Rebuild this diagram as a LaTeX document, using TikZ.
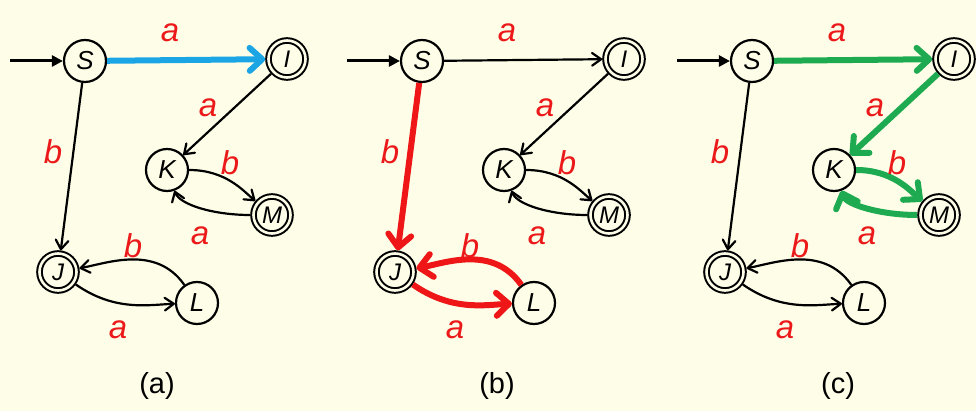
\documentclass[tikz,border=0pt]{standalone}
\usepackage{fontspec}
\setmainfont{Liberation Sans}
\usetikzlibrary{arrows.meta}
\definecolor{bg}{RGB}{254,254,232}
\definecolor{lblred}{RGB}{235,25,25}
\definecolor{hlblue}{RGB}{28,165,228}
\definecolor{hlred}{RGB}{238,22,22}
\definecolor{hlgreen}{RGB}{30,170,80}
\tikzset{
  st/.style={circle,draw,fill=bg,line width=2.2pt,minimum size=42pt,inner sep=0pt,
    font=\itshape\fontsize{26}{26}\selectfont},
  acc/.style={circle,draw,fill=bg,line width=2pt,double=bg,double distance=2.6pt,
    minimum size=37pt,inner sep=0pt,outer sep=3.3pt,font=\itshape\fontsize{24}{24}\selectfont},
  lbl/.style={text=lblred,font=\itshape\fontsize{33}{33}\selectfont,inner sep=0pt},
  captxt/.style={font=\fontsize{29}{29}\selectfont,inner sep=0pt},
  plain/.style={line width=2.2pt,-{Straight Barb[angle=70:11pt,line width=2.2pt,round]}},
  entry/.style={line width=3pt,-{Triangle[length=11pt,width=11pt]}},
  hl/.style={line width=6pt,-{Straight Barb[angle=85:17pt,line width=6pt,round]}},
  hb/.style={hl,draw=hlblue},
  hr/.style={hl,draw=hlred},
  hg/.style={hl,draw=hlgreen},
}
\newcommand\drawpanel[9]{%
\begin{scope}[xshift=#2pt,name prefix=#1-]
  \coordinate (E) at (10,-61);
  \node[st]  (S) at (85,-61)   {S};
  \node[acc] (I) at (287,-59)  {I};
  \node[st]  (K) at (167,-170) {K};
  \node[acc] (M) at (272,-215) {M};
  \node[acc] (J) at (58,-272)  {J};
  \node[st]  (L) at (197,-303) {L};
  \draw[entry] (E) -- (S);
  \draw[#3] (S) -- (I);
  \draw[#4] (S) -- (J);
  \draw[#5] (I) -- (K);
  \draw[#6] (K) to[out=0,in=140] (M);
  \draw[#7] (M) to[out=180,in=-70] (K);
  \draw[#8] (J) to[out=-35,in=182] (L);
  \draw[#9] (L) to[out=125,in=10] (J);
  \node[lbl] (l1) at (170,-33)  {a};
  \node[lbl] (l2) at (208,-108) {a};
  \node[lbl] (l3) at (53,-152)  {b};
  \node[lbl] (l4) at (230,-163) {b};
  \node[lbl] (l5) at (200,-236) {a};
  \node[lbl] (l6) at (133,-246) {b};
  \node[lbl] (l7) at (118,-330) {a};
\end{scope}}
\begin{document}
\begin{tikzpicture}[x=1pt,y=1pt]
  \fill[bg] (0,0) rectangle (976,-411);
  \useasboundingbox (0,0) rectangle (976,-411);
  \drawpanel{pa}{0}{hb}{plain}{plain}{plain}{plain}{plain}{plain}
  \drawpanel{pb}{337}{plain}{hr}{plain}{plain}{plain}{hr}{hr}
  \drawpanel{pc}{667}{hg}{plain}{hg}{hg}{hg}{plain}{plain}
  \node[captxt] (ca) at (157,-386) {(a)};
  \node[captxt] (cb) at (497,-386) {(b)};
  \node[captxt] (cc) at (838,-386) {(c)};
\end{tikzpicture}
\end{document}
